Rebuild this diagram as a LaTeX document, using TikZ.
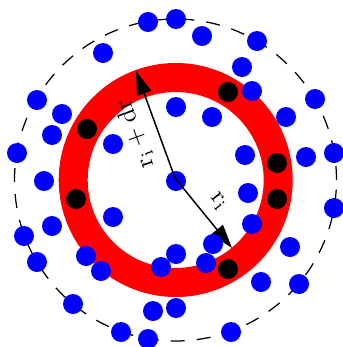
\documentclass[tikz,border=0pt]{standalone}
\usetikzlibrary{arrows.meta}
\tikzset{
  bluedot/.style={fill=blue},
  blackdot/.style={fill=black},
  radarrow/.style={line width=0.6pt,-{Triangle[length=9.5pt,width=6pt]}},
}
\begin{document}
\begin{tikzpicture}[x=0.4pt,y=-0.4pt]
\useasboundingbox (0,0) rectangle (342,347);
% outer shell and the ring
\draw[dash pattern=on 5.6pt off 4.8pt,line width=0.5pt] (175.5,180) circle[radius=64.4pt];
\draw[red,line width=11.6pt] (175.7,180) circle[radius=41pt];
\fill[bluedot] (176,181) circle[radius=4pt];
% radii
\coordinate (c) at (175,178);
\coordinate (tipout) at (136,71);
\coordinate (tipin) at (232,248);
\draw[radarrow] (c) -- (tipout);
\draw[radarrow] (c) -- (tipin);
\node[rotate=110] (lblout) at (135,134) {$\mathrm{r_i + dr}$};
\node[rotate=-51] (lblin) at (218,202) {$\mathrm{r_i}$};
% particles
\foreach \x/\y in {228/92,87/129,277/163,76/199,277/199,228/269}
  \fill[blackdot] (\x,\y) circle[radius=4pt];
\foreach \x/\y in {148/22,176/19,202/36,257/41,103/53,242/67,252/91,37/100,
  315/99,62/114,176/107,212/117,286/117,52/135,113/144,17/153,334/153,
  245/155,306/157,44/181,248/193,334/208,113/217,52/226,252/224,24/236,
  213/244,290/247,176/254,86/256,37/262,206/263,161/267,101/271,261/282,
  299/284,73/304,153/311,176/308,121/332,231/332,148/339}
  \fill[bluedot] (\x,\y) circle[radius=4pt];
\end{tikzpicture}
\end{document}
